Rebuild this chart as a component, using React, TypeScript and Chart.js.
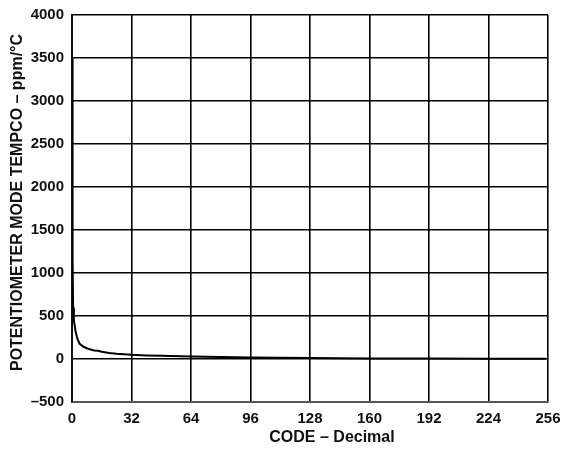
import React, { useEffect, useRef } from "react";
import { Chart, registerables } from "chart.js";

Chart.register(...registerables);

const codes = [0, 0.3, 0.6, 1, 2, 3, 4, 6, 8, 10, 12, 14, 16, 20, 24, 32, 40, 48, 64, 80, 96, 112, 128, 144, 160, 192, 224, 255];
const tempco = [3500, 1200, 600, 450, 310, 230, 180, 145, 125, 110, 100, 95, 85, 70, 60, 48, 42, 38, 30, 24, 18, 15, 12, 8, 6, 5, 4, 3];
const xTicks = [0, 32, 64, 96, 128, 160, 192, 224, 256];
const yTicks = [-500, 0, 500, 1000, 1500, 2000, 2500, 3000, 3500, 4000];
const xTitle = "CODE – Decimal";
const yTitle = "POTENTIOMETER MODE TEMPCO – ppm/°C";

const FONT = "'Liberation Sans', Arial, sans-serif";

export default function App() {
  const ref = useRef<HTMLCanvasElement | null>(null);
  useEffect(() => {
    document.body.style.margin = "0";
    const ctx = ref.current!;
    const chart = new Chart(ctx, {
      type: "line",
      data: {
        datasets: [
          {
            data: codes.map((c, i) => ({ x: c, y: tempco[i] })),
            borderColor: "#000",
            borderWidth: 2,
            pointRadius: 0,
            tension: 0,
            fill: false,
          },
        ],
      },
      options: {
        animation: false,
        responsive: false,
        maintainAspectRatio: false,
        layout: { padding: { top: 15, right: 15, left: 0, bottom: 0 } },
        plugins: { legend: { display: false }, tooltip: { enabled: false } },
        scales: {
          x: {
            type: "linear",
            min: 0,
            max: 256,
            afterBuildTicks: (s: any) => {
              s.ticks = xTicks.map((v) => ({ value: v }));
            },
            afterFit: (s: any) => {
              s.height = 48;
              s.paddingRight = 0;
              s.paddingLeft = 0;
            },
            grid: { color: "#000", lineWidth: 1.6, drawTicks: false },
            border: { color: "#555", width: 2 },
            ticks: {
              color: "#111",
              padding: 8,
              font: { family: FONT, size: 15, weight: "bold" },
            },
          },
          y: {
            type: "linear",
            min: -500,
            max: 4000,
            afterBuildTicks: (s: any) => {
              s.ticks = yTicks.map((v) => ({ value: v }));
            },
            afterFit: (s: any) => {
              s.width = 72;
              s.paddingTop = 0;
              s.paddingBottom = 0;
            },
            grid: { color: "#000", lineWidth: 1.6, drawTicks: false },
            border: { color: "#111", width: 2 },
            ticks: {
              color: "#111",
              padding: 8,
              font: { family: FONT, size: 15, weight: "bold" },
              callback: (v: any) => (v < 0 ? "–" + Math.abs(v) : String(v)),
            },
          },
        },
      },
      plugins: [
        {
          id: "bg",
          beforeDraw: (c: any) => {
            const g = c.ctx;
            g.save();
            g.fillStyle = "#fff";
            g.fillRect(0, 0, c.width, c.height);
            g.restore();
          },
        },
        {
          id: "titles",
          afterDraw: (c: any) => {
            const g = c.ctx;
            const a = c.chartArea;
            g.save();
            g.fillStyle = "#111";
            g.font = `bold 16px ${FONT}`;
            g.textAlign = "center";
            g.textBaseline = "middle";
            g.fillText(xTitle, (a.left + a.right) / 2 + 22, c.height - 12);
            g.translate(18, (a.top + a.bottom) / 2 - 6);
            g.rotate(-Math.PI / 2);
            g.fillText(yTitle, 0, 0);
            g.restore();
          },
        },
      ],
    } as any);
    return () => chart.destroy();
  }, []);
  return (
    <div style={{ position: "absolute", left: 0, top: 0, width: 563, height: 450 }}>
      <canvas ref={ref} width={563} height={450} style={{ width: 563, height: 450 }} />
    </div>
  );
}
